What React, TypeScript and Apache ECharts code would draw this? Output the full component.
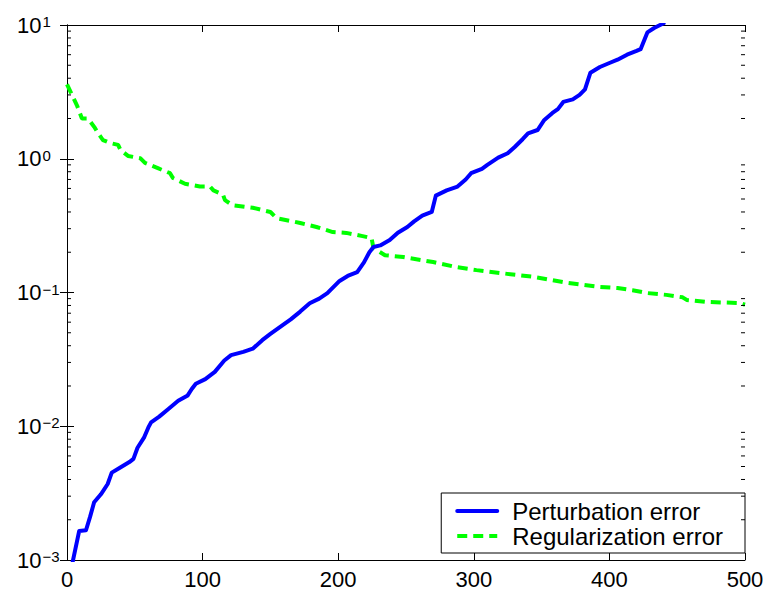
import React, { useEffect, useRef } from 'react';
import * as echarts from 'echarts';

const xTickValues = [0, 100, 200, 300, 400, 500];
const yTickExponents = [-3, -2, -1, 0, 1];
const minorMultipliers = [2, 3, 4, 5, 6, 7, 8, 9];

const seriesNames = ['Perturbation error', 'Regularization error'];

const perturbationX = [3, 9, 14, 17, 20, 25, 30, 33, 39, 46, 49, 52, 57, 60, 62, 68, 75, 82, 89, 92, 95, 102, 109, 116, 121, 130, 137, 144, 150, 158, 165, 172, 179, 186, 192, 201, 207, 214, 219, 223, 226, 231, 238, 244, 251, 256, 262, 269, 272, 280, 288, 294, 298, 306, 310, 318, 325, 330, 336, 340, 347, 352, 358, 362, 366, 373, 378, 382, 386, 393, 400, 406, 413, 420, 423, 428, 433, 440];
const perturbationY = [0.00085, 0.00165, 0.00167, 0.0021, 0.0027, 0.0031, 0.0037, 0.0045, 0.0049, 0.0054, 0.0057, 0.0069, 0.0083, 0.0098, 0.0107, 0.0118, 0.0135, 0.0155, 0.017, 0.019, 0.0208, 0.0225, 0.0255, 0.031, 0.034, 0.036, 0.038, 0.044, 0.049, 0.056, 0.063, 0.072, 0.083, 0.09, 0.099, 0.122, 0.133, 0.142, 0.168, 0.2, 0.219, 0.225, 0.247, 0.28, 0.309, 0.34, 0.375, 0.4, 0.53, 0.58, 0.62, 0.7, 0.78, 0.84, 0.9, 1.02, 1.1, 1.22, 1.4, 1.55, 1.64, 1.95, 2.2, 2.35, 2.66, 2.78, 3.0, 3.3, 4.4, 4.85, 5.2, 5.5, 6.0, 6.4, 6.6, 8.8, 9.5, 10.3];

const regularizationX = [0, 7.4, 11, 15.5, 20.6, 23, 26.5, 32, 37.7, 39.5, 45, 54, 57.5, 67, 76, 78, 87, 98, 105.5, 108, 115, 116.5, 122, 137, 150, 154.5, 172, 184, 196, 206, 218, 224.6, 226, 234.5, 248, 270, 287, 302, 319, 344, 369, 393, 406, 417, 428, 442, 454, 457, 472, 496, 500];
const regularizationY = [3.6, 2.5, 2.0, 2.0, 1.7, 1.55, 1.38, 1.31, 1.27, 1.16, 1.05, 1.01, 0.93, 0.85, 0.78, 0.72, 0.65, 0.62, 0.62, 0.58, 0.54, 0.49, 0.45, 0.43, 0.4, 0.36, 0.331, 0.309, 0.283, 0.279, 0.264, 0.255, 0.215, 0.19, 0.184, 0.169, 0.155, 0.147, 0.14, 0.131, 0.118, 0.11, 0.108, 0.104, 0.099, 0.096, 0.092, 0.088, 0.085, 0.0835, 0.081];

const FONT = '"Liberation Sans", Arial, Helvetica, sans-serif';

export default function App() {
  const ref = useRef<HTMLDivElement>(null);

  useEffect(() => {
    if (!ref.current) return;
    const chart = echarts.init(ref.current, undefined, { renderer: 'svg' });

    const yMin = Math.pow(10, yTickExponents[0]);
    const yMax = Math.pow(10, yTickExponents[yTickExponents.length - 1]);
    const minorValues: number[][] = [];
    for (let i = 0; i < yTickExponents.length - 1; i++) {
      const base = Math.pow(10, yTickExponents[i]);
      minorMultipliers.forEach((m) => minorValues.push([0, m * base]));
    }

    const axisLineStyle = { color: '#000', width: 1 };

    const option: any = {
      animation: false,
      backgroundColor: '#fff',
      grid: { left: 67, right: 25, top: 25, bottom: 33, containLabel: false },
      legend: {
        orient: 'vertical',
        right: 25,
        bottom: 40,
        data: seriesNames,
        backgroundColor: '#fff',
        borderColor: '#000',
        borderWidth: 1,
        borderRadius: 0,
        padding: [6, 22, 5, 14],
        itemWidth: 40,
        itemHeight: 14,
        itemGap: 1,
        selectedMode: false,
        itemStyle: { opacity: 0 },
        lineStyle: { width: 4 },
        textStyle: {
          fontFamily: FONT,
          fontSize: 24,
          color: '#000',
          lineHeight: 24,
          padding: [0, 0, 0, 10],
        },
      },
      xAxis: [
        {
          type: 'value',
          min: xTickValues[0],
          max: xTickValues[xTickValues.length - 1],
          interval: 100,
          position: 'bottom',
          axisLine: { show: true, lineStyle: axisLineStyle },
          axisTick: { show: true, inside: true, length: 7, lineStyle: axisLineStyle },
          axisLabel: { show: true, margin: 8, fontFamily: FONT, fontSize: 22, color: '#000' },
          splitLine: { show: false },
        },
        {
          type: 'value',
          min: xTickValues[0],
          max: xTickValues[xTickValues.length - 1],
          interval: 100,
          position: 'top',
          axisLine: { show: true, lineStyle: axisLineStyle },
          axisTick: { show: true, inside: true, length: 7, lineStyle: axisLineStyle },
          axisLabel: { show: false },
          splitLine: { show: false },
        },
      ],
      yAxis: [
        {
          type: 'log',
          logBase: 10,
          min: yMin,
          max: yMax,
          position: 'left',
          axisLine: { show: true, lineStyle: axisLineStyle },
          axisTick: { show: true, inside: true, length: 7, lineStyle: axisLineStyle },
          axisLabel: {
            show: true,
            align: 'left',
            margin: 50,
            formatter: (v: number) => {
              const e = Math.round(Math.log10(v));
              const s = e < 0 ? '\u2212' + Math.abs(e) : String(e);
              return '{b|10}{s|' + s + '}';
            },
            rich: {
              b: { fontFamily: FONT, fontSize: 22, lineHeight: 22, color: '#000', verticalAlign: 'bottom' },
              s: { fontFamily: FONT, fontSize: 15, lineHeight: 15, color: '#000', verticalAlign: 'top', padding: [0, 0, 11, 1] },
            },
          },
          splitLine: { show: false },
        },
        {
          type: 'log',
          logBase: 10,
          min: yMin,
          max: yMax,
          position: 'right',
          axisLine: { show: true, lineStyle: axisLineStyle },
          axisTick: { show: true, inside: true, length: 7, lineStyle: axisLineStyle },
          axisLabel: { show: false },
          splitLine: { show: false },
        },
      ],
      series: [
        {
          name: seriesNames[0],
          type: 'line',
          data: perturbationX.map((x, i) => [x, perturbationY[i]]),
          showSymbol: false,
          symbol: 'none',
          clip: true,
          color: '#0000ff',
          lineStyle: { color: '#0000ff', width: 4, join: 'round', cap: 'round' },
          z: 3,
        },
        {
          name: seriesNames[1],
          type: 'line',
          data: regularizationX.map((x, i) => [x, regularizationY[i]]),
          showSymbol: false,
          symbol: 'none',
          clip: true,
          color: '#00ff00',
          lineStyle: { color: '#00ff00', width: 4, type: [10, 6] },
          z: 2,
        },
        {
          type: 'custom',
          silent: true,
          clip: false,
          data: minorValues,
          z: 5,
          renderItem: (params: any, api: any) => {
            const pt = api.coord([0, api.value(1)]);
            const cs = params.coordSys;
            const y = pt[1];
            const st = { stroke: '#000', lineWidth: 1 };
            return {
              type: 'group',
              children: [
                { type: 'line', shape: { x1: cs.x, y1: y, x2: cs.x + 4, y2: y }, style: st },
                { type: 'line', shape: { x1: cs.x + cs.width - 4, y1: y, x2: cs.x + cs.width, y2: y }, style: st },
              ],
            };
          },
        },
      ],
    };

    chart.setOption(option);
    return () => chart.dispose();
  }, []);

  return <div ref={ref} style={{ width: 770, height: 593, position: 'absolute', left: 0, top: 0 }} />;
}
